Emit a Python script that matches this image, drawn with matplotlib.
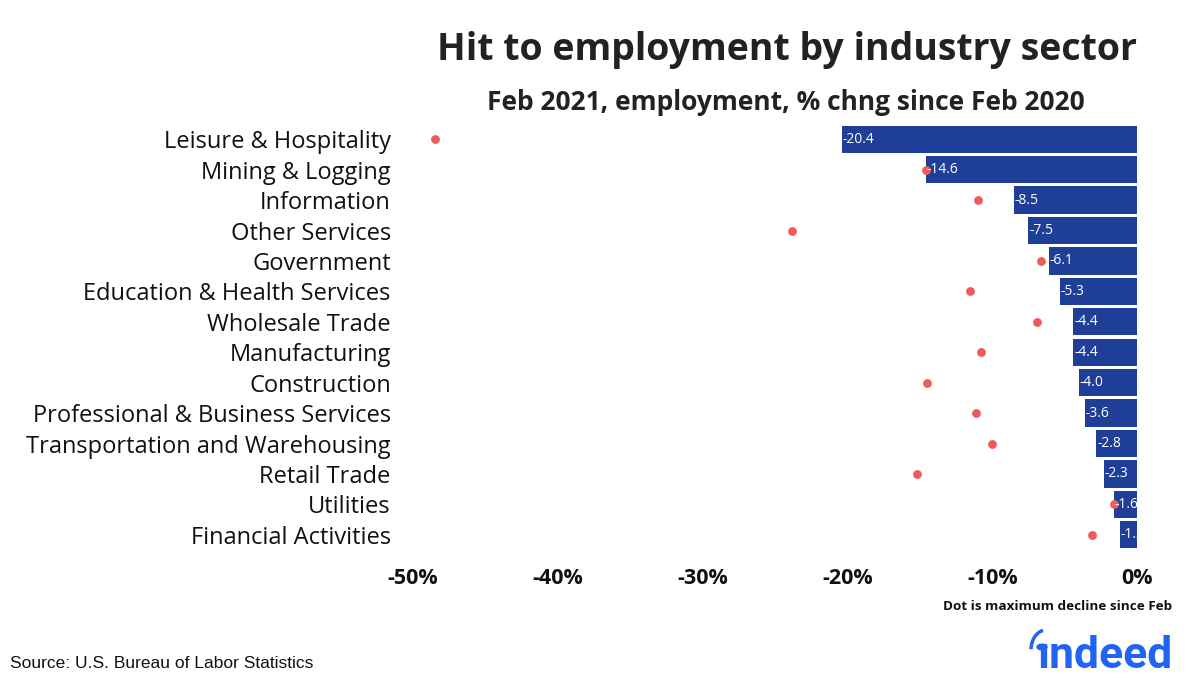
import numpy as np
from matplotlib import pyplot as plt
from matplotlib.patches import Arc

plt.rcParams['font.family'] = ['Open Sans', 'DejaVu Sans']

sectors = ['Leisure & Hospitality', 'Mining & Logging', 'Information', 'Other Services',
           'Government', 'Education & Health Services', 'Wholesale Trade', 'Manufacturing',
           'Construction', 'Professional & Business Services', 'Transportation and Warehousing',
           'Retail Trade', 'Utilities', 'Financial Activities']
feb2021 = [-20.4, -14.6, -8.5, -7.5, -6.1, -5.3, -4.4, -4.4, -4.0, -3.6, -2.8, -2.3, -1.6, -1.2]
max_decline = [-48.5, -14.6, -11.0, -23.8, -6.6, -11.5, -6.9, -10.8, -14.5, -11.1, -10.0,
               -15.2, -1.6, -3.1]
xticks = [-50, -40, -30, -20, -10, 0]

BAR_COLOR = '#1f3e98'
DOT_COLOR = '#ef5a5a'

fig = plt.figure(figsize=(12, 6.82), dpi=100)
ax = fig.add_axes([413 / 1200, 1 - 550 / 682, (1137 - 413) / 1200, (550 - 124) / 682])

y = np.arange(len(sectors))
ax.barh(y, feb2021, height=0.9, color=BAR_COLOR, zorder=2)
ax.scatter(max_decline, y, s=40, color=DOT_COLOR, zorder=3, linewidths=0)
for yi, v in zip(y, feb2021):
    ax.text(v + 0.05, yi, f'{v:.1f}', color='white', fontsize=10, va='center', ha='left',
            zorder=4, clip_on=True)

ax.set_xlim(-50, 0)
ax.set_ylim(len(sectors) - 0.5, -0.5)
ax.set_yticks(y)
ax.set_yticklabels(sectors, fontsize=17, color='#111111')
ax.set_xticks(xticks)
ax.set_xticklabels([f'{t}%' for t in xticks], fontsize=15.5, fontweight='bold', color='#111111')
ax.tick_params(axis='y', length=0, pad=16)
ax.tick_params(axis='x', length=0, pad=13)
for s in ax.spines.values():
    s.set_visible(False)

fig.text(787 / 1200, 1 - 50 / 682, 'Hit to employment by industry sector', ha='center',
         va='center', fontsize=27, fontweight='bold', color='#222222')
fig.text(786 / 1200, 1 - 102 / 682, 'Feb 2021, employment, % chng since Feb 2020', ha='center',
         va='center', fontsize=19, fontweight='bold', color='#222222')
fig.text(1172 / 1200, 1 - 607 / 682, 'Dot is maximum decline since Feb', ha='right',
         va='center', fontsize=9.7, fontweight='bold', color='#111111')
fig.text(10 / 1200, 1 - 663 / 682, 'Source: U.S. Bureau of Labor Statistics', ha='left',
         va='center', fontsize=12.5, family='Liberation Sans', color='#111111')

# indeed logo
fig.text(1172 / 1200, 1 - 668 / 682, 'ındeed', ha='right', va='baseline', fontsize=32,
         fontweight='bold', color='#2164f3', family=['Roboto', 'DejaVu Sans'])
fig.patches.append(plt.Circle((1042 / 1200, 1 - 647 / 682), 5 / 1200, color='#2164f3',
                              transform=fig.transFigure, figure=fig))
fig.patches.append(Arc((1046 / 1200, 1 - 650 / 682), 30 / 1200, 40 / 682, theta1=95,
                       theta2=175, color='#2164f3', linewidth=2.5,
                       transform=fig.transFigure, figure=fig))

fig.savefig('out.png', dpi=100, facecolor='white')
